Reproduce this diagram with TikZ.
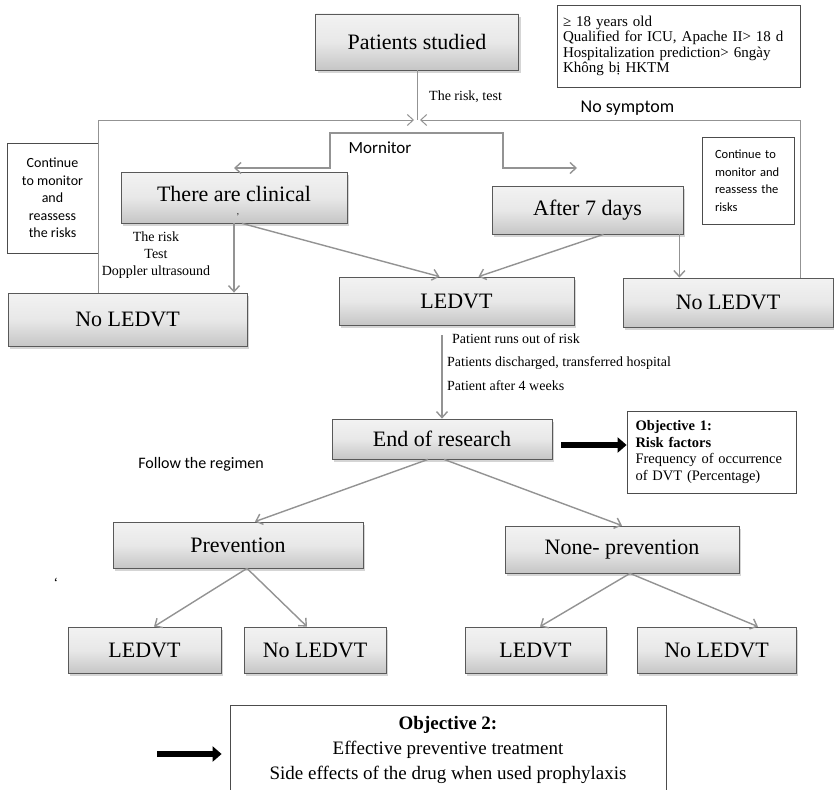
\documentclass[tikz,border=0pt]{standalone}
\usepackage{fontspec}
\setmainfont{Liberation Serif}
\newfontfamily\calibri{Carlito}
\usetikzlibrary{arrows.meta,shadows,calc}

\begin{document}
\begin{tikzpicture}[
  x=1pt, y=-1pt,
  >={Straight Barb[length=6pt,width=11pt]},
  every node/.style={inner sep=0pt},
  gbox/.style={draw=gray!70!black, line width=0.8pt,
    top color=gray!10, bottom color=gray!45, middle color=gray!18,
    drop shadow={shadow xshift=2pt, shadow yshift=-3pt, fill=gray!65},
    font=\fontsize{22}{26}\selectfont},
  wbox/.style={draw=gray!60!black, line width=0.8pt, fill=white},
  arr/.style={draw=gray!85, line width=1.4pt, ->},
  fb/.style={draw=gray!85, line width=1pt, ->},
  fat/.style={line width=6pt, -{Triangle[length=9pt,width=15pt]}},
  note/.style={font=\fontsize{14}{17}\selectfont},
  sans/.style={font=\calibri\fontsize{16}{19}\selectfont}
]
\clip (0,0) rectangle (834,789);
\fill[white] (0,0) rectangle (834,789);

\node[gbox, minimum width=203pt, minimum height=56pt] (studied) at (417,42) {Patients studied};
\node[wbox, minimum width=243pt, minimum height=82pt, text width=231pt, align=left,
  font=\fontsize{15}{15.5}\selectfont] (info) at (678.5,46)
  {≥ 18 years old\\Qualified for ICU, Apache II> 18 d\\Hospitalization prediction> 6ngày\\Không bị HKTM};

\node[wbox, minimum width=91pt, minimum height=110pt, align=center,
  font=\calibri\fontsize{14}{17.5}\selectfont] (contL) at (52.5,198)
  {Continue\\to monitor\\and\\reassess\\the risks};
\node[wbox, minimum width=92pt, minimum height=87pt, text width=66pt, align=left,
  font=\calibri\fontsize{12.5}{17.5}\selectfont] (contR) at (748,180.5)
  {Continue to\\monitor and\\reassess the\\risks};

\node[gbox, minimum width=226pt, minimum height=51pt] (clinical) at (234,197.5) {\raisebox{7pt}{There are clinical}};
\node[font=\fontsize{9}{9}\selectfont] (comma) at (238,215) {,};
\node[gbox, minimum width=191pt, minimum height=48pt] (after7) at (587.5,210) {After 7 days};
\node[gbox, minimum width=239pt, minimum height=53pt] (noL) at (127.5,319.5) {No LEDVT};
\node[gbox, minimum width=235pt, minimum height=48pt] (ledvt) at (456.5,301) {LEDVT};
\node[gbox, minimum width=210pt, minimum height=49pt] (noR) at (728,302.5) {No LEDVT};

\node[gbox, minimum width=220pt, minimum height=40pt] (endres) at (442,439) {End of research};
\node[wbox, minimum width=169pt, minimum height=82pt, text width=152pt, align=left,
  font=\fontsize{14.5}{16.5}\selectfont] (obj1) at (711.5,452)
  {\textbf{Objective 1:}\\\textbf{Risk factors}\\Frequency of occurrence\\of DVT (Percentage)};

\node[gbox, minimum width=250pt, minimum height=46pt] (prev) at (238,545) {Prevention};
\node[gbox, minimum width=234pt, minimum height=47pt] (nonprev) at (622,549.5) {None- prevention};
\node[gbox, minimum width=153pt, minimum height=46pt] (b1) at (144.5,650) {LEDVT};
\node[gbox, minimum width=142pt, minimum height=46pt] (b2) at (315,650) {No LEDVT};
\node[gbox, minimum width=141pt, minimum height=46pt] (b3) at (535.5,650) {LEDVT};
\node[gbox, minimum width=159pt, minimum height=46pt] (b4) at (716.5,650) {No LEDVT};

\node[wbox, minimum width=436pt, minimum height=90pt, align=center,
  font=\fontsize{19}{25}\selectfont] (obj2) at (448,750)
  {\textbf{Objective 2:}\\Effective preventive treatment\\Side effects of the drug when used prophylaxis};

\node[note, anchor=west] (risktest) at (429,97) {The risk, test};
\node[sans, font=\calibri\fontsize{18}{21}\selectfont] (nosym) at (627.5,108) {No symptom};
\node[sans, font=\calibri\fontsize{17}{20}\selectfont] (mon) at (380,148) {Mornitor};
\node[note, align=center] (doppler) at (156,255) {The risk\\Test\\Doppler ultrasound};
\node[note, anchor=west] (out1) at (452,339) {Patient runs out of risk};
\node[note, anchor=west] (out2) at (447,363) {Patients discharged, transferred hospital};
\node[note, anchor=west] (out3) at (447,386) {Patient after 4 weeks};
\node[sans] (regimen) at (201,464) {Follow the regimen};
\node[note] (tick) at (56,583) {`};

\coordinate (jn) at (417,120);
\draw[draw=gray!85, line width=1pt] (studied.south) -- (jn);
\draw[fb, shorten >=3pt] (noL.north -| contL.east) |- (jn);
\draw[fb, shorten >=3pt] (noR.north -| info.east) |- (jn);

\coordinate (monL) at (234,168);
\coordinate (monR) at (577,168);
\draw[arr, <->] (monL) -- (330,168) |- (503,133) |- (monR);

\draw[arr] (clinical.south) -- (clinical.south |- noL.north);
\draw[arr] ([xshift=8pt]clinical.south) -- ([xshift=-17pt]ledvt.north);
\draw[arr] ([xshift=16pt]after7.south) -- ([xshift=22pt]ledvt.north);
\draw[arr] ([xshift=-4pt]after7.south east) -- ([xshift=-4pt]after7.south east |- noR.north);
\draw[arr] ($(ledvt.south -| endres.north)+(0,10)$) -- (endres.north);

\draw[arr] ([xshift=-14pt]endres.south) -- ([xshift=17pt]prev.north);
\draw[arr] ([xshift=2pt]endres.south) -- (nonprev.north);
\draw[arr] ([xshift=9pt]prev.south) -- ([xshift=9.5pt]b1.north);
\draw[arr] ([xshift=9pt]prev.south) -- ([xshift=-8pt]b2.north);
\draw[arr] ([xshift=8pt]nonprev.south) -- ([xshift=4.5pt]b3.north);
\draw[arr] ([xshift=8pt]nonprev.south) -- ([xshift=41.5pt]b4.north);

\draw[fat] ($(endres.east)+(9,6)$) -- ($(obj1.west)+(0,-7)$);
\coordinate (o2tail) at (157,754);
\draw[fat] (o2tail) -- ($(obj2.west)+(-8,4)$);
\end{tikzpicture}
\end{document}
